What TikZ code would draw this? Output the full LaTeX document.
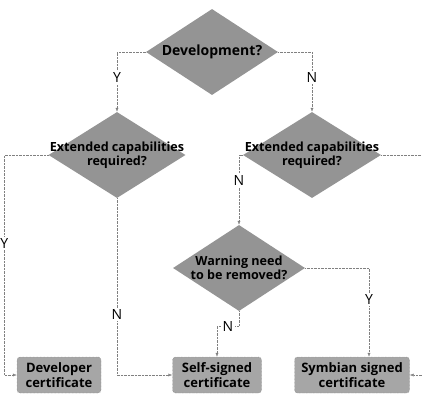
\documentclass[tikz,border=0pt]{standalone}
\usepackage{fontspec}
\setmainfont{Open Sans}
\usetikzlibrary{arrows.meta}
\usetikzlibrary{shapes.geometric}

\begin{document}
\begin{tikzpicture}[x=1pt,y=-1pt,>={Latex[length=4pt,width=3pt]},
  decision/.style={diamond,fill=black!42,inner sep=0pt,minimum width=#1,minimum height=86pt},
  dtext/.style={font=\fontsize{12.6}{14}\selectfont\bfseries,align=center,inner sep=0pt},
  cert/.style={rectangle,rounded corners=3pt,fill=black!35,draw=black!55,densely dotted,
    minimum height=36pt,font=\fontsize{13}{15}\selectfont\bfseries,align=center,inner sep=0pt},
  line/.style={draw=black!50,densely dotted,thin},
  yn/.style={fill=white,inner sep=1.5pt,font=\fontsize{14}{15}\selectfont}]
\useasboundingbox (0,0) rectangle (422,394);

\node[decision=132pt,label={[dtext,font=\fontsize{14}{16}\selectfont\bfseries]center:Development?}](dev) at (212,52) {};
\node[decision=137pt,label={[dtext]center:Extended capabilities\\required?}](ext1) at (117,155) {};
\node[decision=138pt,label={[dtext]center:Extended capabilities\\required?}](ext2) at (312,155) {};
\node[decision=132pt,label={[dtext]center:Warning need\\to be removed?}](warn) at (239,268) {};

\node[cert,minimum width=84pt](devcert) at (59,375) {Developer\\certificate};
\node[cert,minimum width=89pt](self) at (217,375) {Self-signed\\certificate};
\node[cert,minimum width=115pt](sym) at (352,375) {Symbian signed\\certificate};

\draw[line,->] (dev.west) -| node[yn,pos=.71]{Y} (ext1.north);
\draw[line,->] (dev.east) -| node[yn,pos=.71]{N} (ext2.north);

\draw[line,->] (ext1.west) -- ++(-44,0) |- node[yn,pos=.2]{Y} (devcert.west);
\draw[line,->] (ext1.south) |- node[yn,pos=.33]{N} (self.west);

\draw[line,->] (ext2.west) -| node[yn,pos=.68]{N} (warn.north);
\draw[line,->] (ext2.east) -- ++(107,0) |- node[yn,pos=.2]{Y} (sym.east);

\draw[line,->] (warn.south) -- ++(0,15) -| node[yn,pos=.25]{N} (self.north);
\draw[line,->] (warn.east) -| node[yn,pos=.68]{Y} ([xshift=17pt]sym.north);
\end{tikzpicture}
\end{document}
